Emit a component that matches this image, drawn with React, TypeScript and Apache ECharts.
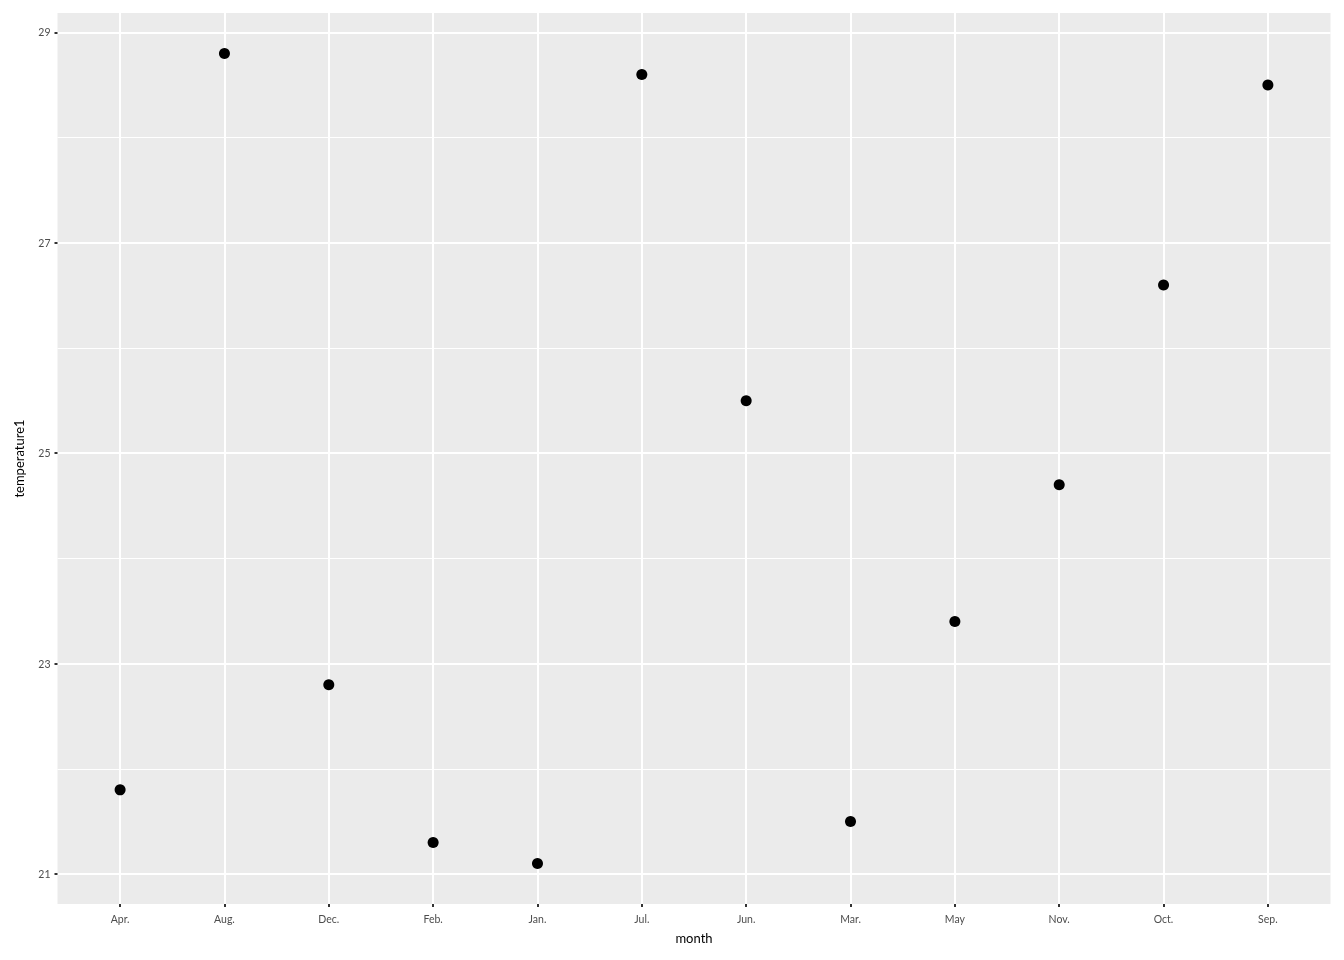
import React, { useEffect, useRef } from "react";
import * as echarts from "echarts";

const months = ["Apr.", "Aug.", "Dec.", "Feb.", "Jan.", "Jul.", "Jun.", "Mar.", "May", "Nov.", "Oct.", "Sep."];
const temperature1 = [21.8, 28.8, 22.8, 21.3, 21.1, 28.6, 25.5, 21.5, 23.4, 24.7, 26.6, 28.5];
const yMajorTicks = [21, 23, 25, 27, 29];
const yMinorTicks = [22, 24, 26, 28];

export default function App() {
  const ref = useRef<HTMLDivElement>(null);
  useEffect(() => {
    if (!ref.current) return;
    const chart = echarts.init(ref.current, undefined, { renderer: "svg" });
    const yMinData = Math.min(...temperature1);
    const yMaxData = Math.max(...temperature1);
    const yPad = (yMaxData - yMinData) * 0.05;
    const yMin = yMinData - yPad;
    const yMax = yMaxData + yPad;
    const xIdx = months.map((_, i) => i);
    const font = "Lato";
    chart.setOption({
      animation: false,
      grid: {
        left: 57.5,
        right: 13.5,
        top: 13,
        bottom: 56,
        show: true,
        backgroundColor: "#ebebeb",
        borderWidth: 0,
      },
      xAxis: {
        type: "value",
        min: -0.6,
        max: months.length - 1 + 0.6,
        name: "month",
        nameLocation: "middle",
        nameGap: 27,
        nameTextStyle: { color: "#000", fontSize: 13, fontFamily: font },
        axisLine: { show: false, onZero: false },
        axisTick: { show: true, length: 3, customValues: xIdx, lineStyle: { color: "#333", width: 2 } },
        axisLabel: {
          customValues: xIdx,
          margin: 9,
          color: "#4d4d4d",
          fontSize: 10.5,
          fontFamily: font,
          formatter: (v: number) => months[Math.round(v)] ?? "",
        },
        splitLine: { show: true, lineStyle: { color: "#ffffff", width: 2 } },
      },
      yAxis: [
        {
          type: "value",
          min: yMin,
          max: yMax,
          name: "temperature1",
          nameLocation: "middle",
          nameGap: 32,
          nameTextStyle: { color: "#000", fontSize: 13, fontFamily: font },
          axisLine: { show: false, onZero: false },
          axisTick: { show: true, length: 3, customValues: yMajorTicks, lineStyle: { color: "#333", width: 2 } },
          axisLabel: { customValues: yMajorTicks, margin: 7, color: "#4d4d4d", fontSize: 10.5, fontFamily: font },
          splitLine: { show: true, lineStyle: { color: "#ffffff", width: 2 } },
          z: 1,
        },
        {
          type: "value",
          min: yMin,
          max: yMax,
          position: "left",
          axisLine: { show: false, onZero: false },
          axisTick: { show: false, customValues: yMinorTicks },
          axisLabel: { show: false, customValues: yMinorTicks },
          splitLine: { show: true, lineStyle: { color: "#ffffff", width: 1 } },
          z: 0,
        },
      ],
      series: [
        {
          type: "scatter",
          data: temperature1.map((v, i) => [i, v]),
          symbolSize: 11,
          itemStyle: { color: "#000000", opacity: 1 },
          z: 5,
        },
      ],
    });
    return () => chart.dispose();
  }, []);
  return <div ref={ref} style={{ position: "fixed", left: 0, top: 0, width: 1344, height: 960 }} />;
}
